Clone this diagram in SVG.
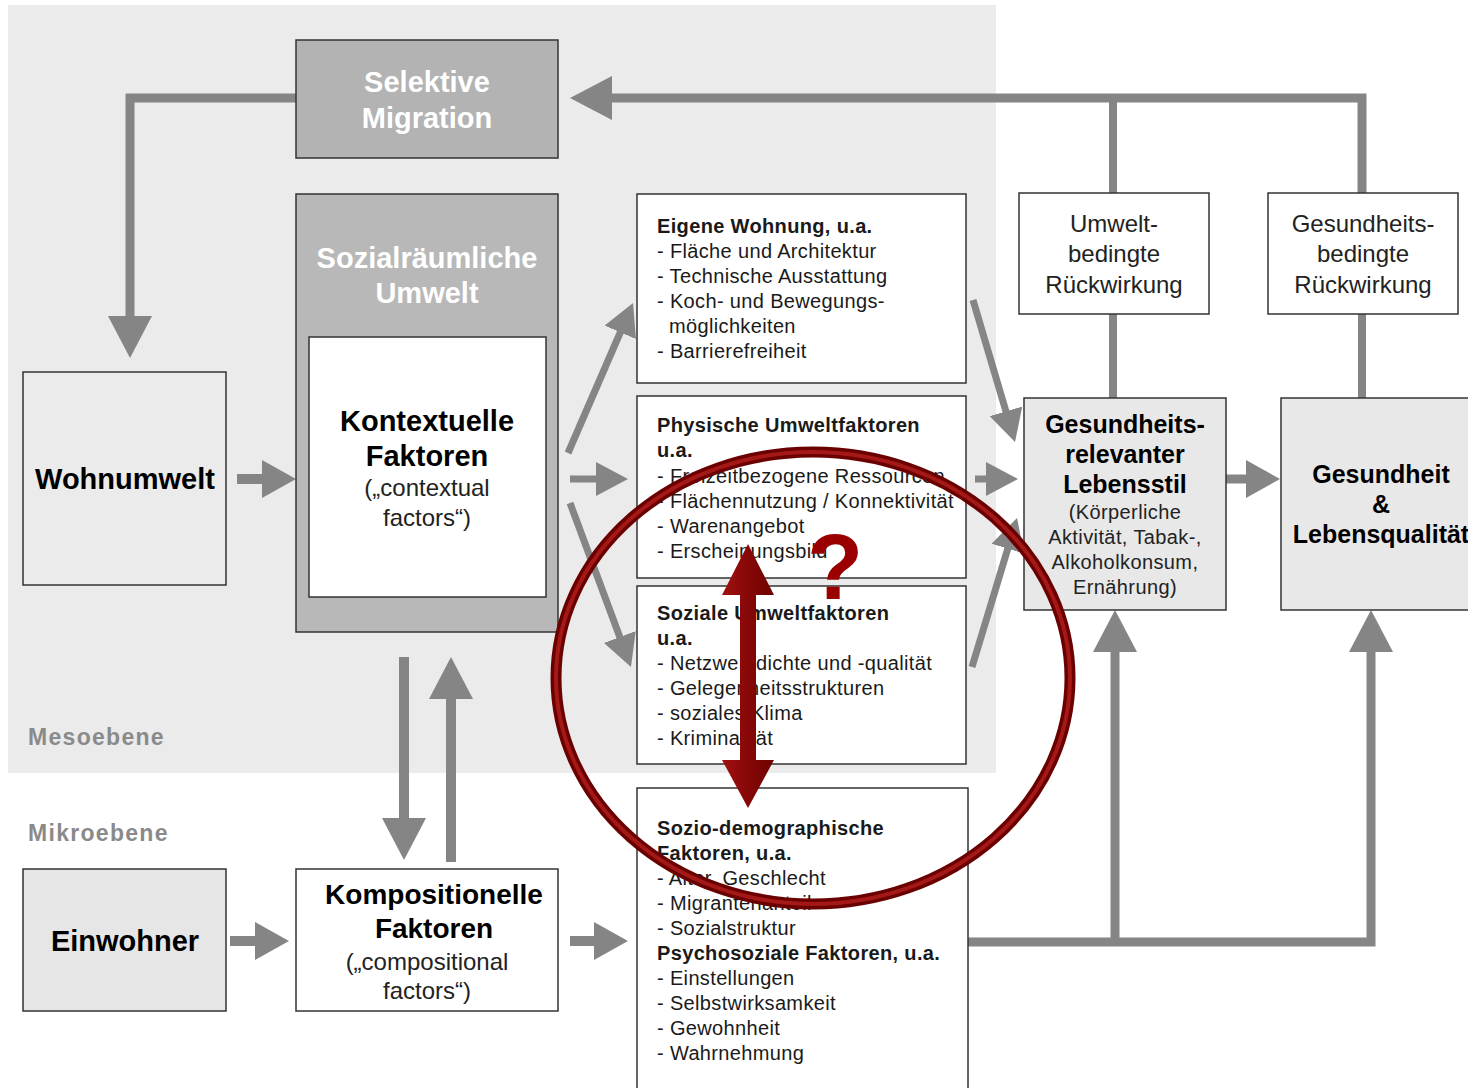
<svg xmlns="http://www.w3.org/2000/svg" width="1468" height="1088" viewBox="0 0 1468 1088">
<defs>
<style>
text{font-family:"Liberation Sans",Arial,sans-serif}
.b{font-weight:bold}
.ttl{font-size:29px;font-weight:bold;fill:#fff;text-anchor:middle}
.big{font-size:29px;font-weight:bold;fill:#000;text-anchor:middle}
.sub{font-size:24px;fill:#222;text-anchor:middle}
.hd{font-size:25px;font-weight:bold;fill:#000;text-anchor:middle}
.sm{font-size:20px;fill:#222;text-anchor:middle;letter-spacing:0.4px}
.lst{font-size:20px;fill:#1a1a1a;letter-spacing:0.35px}
.lvl{font-size:23px;font-weight:bold;fill:#8a8a8a;letter-spacing:1.3px}
.box{stroke:#333;stroke-width:1.5}
.conn{stroke:#858585;fill:none}
</style>
<marker id="hA" markerUnits="userSpaceOnUse" markerWidth="42" markerHeight="44" viewBox="0 0 42 44" refX="10" refY="22" orient="auto"><path d="M0,0L42,22L0,44z" fill="#858585"/></marker>
<marker id="hB" markerUnits="userSpaceOnUse" markerWidth="34" markerHeight="38" viewBox="0 0 34 38" refX="8" refY="19" orient="auto"><path d="M0,0L34,19L0,38z" fill="#858585"/></marker>
<marker id="hC" markerUnits="userSpaceOnUse" markerWidth="32" markerHeight="34" viewBox="0 0 32 34" refX="8" refY="17" orient="auto"><path d="M0,0L32,17L0,34z" fill="#858585"/></marker>
<linearGradient id="rg" x1="0" y1="0" x2="1" y2="0"><stop offset="0" stop-color="#a01010"/><stop offset="1" stop-color="#6e0000"/></linearGradient>
</defs>
<rect width="1468" height="1088" fill="#fff"/>
<rect id="meso" x="8" y="5" width="988" height="768" fill="#ebebeb"/>
<text class="lvl" x="28" y="745">Mesoebene</text>
<text class="lvl" x="28" y="841">Mikroebene</text>

<g id="connectors">
<path class="conn" stroke-width="9" d="M296,98H130V326" marker-end="url(#hA)"/>
<path class="conn" stroke-width="9" d="M1362,193V98H602" marker-end="url(#hA)"/>
<path class="conn" stroke-width="8" d="M1113,193V98"/>
<path class="conn" stroke-width="8" d="M1113,314V398M1362,314V398"/>
<path class="conn" stroke-width="10" d="M237,479H270" marker-end="url(#hB)"/>
<path class="conn" stroke-width="7" d="M568,453L623.5,325" marker-end="url(#hC)"/>
<path class="conn" stroke-width="7" d="M570,479H604" marker-end="url(#hC)"/>
<path class="conn" stroke-width="7" d="M570,503L622.6,644.5" marker-end="url(#hC)"/>
<path class="conn" stroke-width="7" d="M973,300L1008.2,419" marker-end="url(#hC)"/>
<path class="conn" stroke-width="7" d="M975,479H994" marker-end="url(#hC)"/>
<path class="conn" stroke-width="7" d="M972,667L1010.1,541" marker-end="url(#hC)"/>
<path class="conn" stroke-width="9" d="M1226,479H1254" marker-end="url(#hB)"/>
<path class="conn" stroke-width="10" d="M404,657V828" marker-end="url(#hA)"/>
<path class="conn" stroke-width="10" d="M451,862V689" marker-end="url(#hA)"/>
<path class="conn" stroke-width="10" d="M230,941H263" marker-end="url(#hB)"/>
<path class="conn" stroke-width="10" d="M570,941H602" marker-end="url(#hB)"/>
<path class="conn" stroke-width="9" d="M968,942H1371V642" marker-end="url(#hA)"/>
<path class="conn" stroke-width="9" d="M1115,942V642" marker-end="url(#hA)"/>
</g>

<g id="selektive">
<rect class="box" x="296" y="40" width="262" height="118" fill="#b3b3b3"/>
<text class="ttl" x="427" y="92">Selektive</text>
<text class="ttl" x="427" y="128">Migration</text>
</g>
<g id="sozialraum">
<rect class="box" x="296" y="194" width="262" height="438" fill="#b8b8b8"/>
<text class="ttl" x="427" y="268">Sozialräumliche</text>
<text class="ttl" x="427" y="303">Umwelt</text>
</g>
<g id="kontextuelle">
<rect class="box" x="309" y="337" width="237" height="260" fill="#fff"/>
<text class="big" x="427" y="431">Kontextuelle</text>
<text class="big" x="427" y="466">Faktoren</text>
<text class="sub" x="427" y="496">(„contextual</text>
<text class="sub" x="427" y="526">factors“)</text>
</g>
<g id="wohnumwelt">
<rect class="box" x="23" y="372" width="203" height="213" fill="#ebebeb"/>
<text class="big" x="125" y="489">Wohnumwelt</text>
</g>
<g id="einwohner">
<rect class="box" x="23" y="869" width="203" height="142" fill="#e6e6e6"/>
<text class="big" x="125" y="951">Einwohner</text>
</g>
<g id="kompositionelle">
<rect class="box" x="296" y="869" width="262" height="142" fill="#fff"/>
<text class="big" x="434" y="904" style="font-size:28px">Kompositionelle</text>
<text class="big" x="434" y="938" style="font-size:28px">Faktoren</text>
<text class="sub" x="427" y="970">(„compositional</text>
<text class="sub" x="427" y="999">factors“)</text>
</g>
<g id="eigene">
<rect class="box" x="637" y="194" width="329" height="189" fill="#fff"/>
<text class="lst b" x="657" y="233">Eigene Wohnung, u.a.</text>
<text class="lst" x="657" y="258">- Fläche und Architektur</text>
<text class="lst" x="657" y="283">- Technische Ausstattung</text>
<text class="lst" x="657" y="308">- Koch- und Bewegungs-</text>
<text class="lst" x="669" y="333">möglichkeiten</text>
<text class="lst" x="657" y="358">- Barrierefreiheit</text>
</g>
<g id="physische">
<rect class="box" x="637" y="396" width="329" height="182" fill="#fff"/>
<text class="lst b" x="657" y="432">Physische Umweltfaktoren</text>
<text class="lst b" x="657" y="457">u.a.</text>
<text class="lst" x="657" y="483">- Freizeitbezogene Ressourcen</text>
<text class="lst" x="657" y="508">- Flächennutzung / Konnektivität</text>
<text class="lst" x="657" y="533">- Warenangebot</text>
<text class="lst" x="657" y="558">- Erscheinungsbild</text>
</g>
<g id="soziale">
<rect class="box" x="637" y="586" width="329" height="178" fill="#fff"/>
<text class="lst b" x="657" y="620">Soziale Umweltfaktoren</text>
<text class="lst b" x="657" y="645">u.a.</text>
<text class="lst" x="657" y="670">- Netzwerkdichte und -qualität</text>
<text class="lst" x="657" y="695">- Gelegenheitsstrukturen</text>
<text class="lst" x="657" y="720">- soziales Klima</text>
<text class="lst" x="657" y="745">- Kriminalität</text>
</g>
<g id="soziodemo">
<rect class="box" x="637" y="788" width="331" height="310" fill="#fff"/>
<text class="lst b" x="657" y="835">Sozio-demographische</text>
<text class="lst b" x="657" y="860">Faktoren, u.a.</text>
<text class="lst" x="657" y="885">- Alter, Geschlecht</text>
<text class="lst" x="657" y="910">- Migrantenanteil</text>
<text class="lst" x="657" y="935">- Sozialstruktur</text>
<text class="lst b" x="657" y="960">Psychosoziale Faktoren, u.a.</text>
<text class="lst" x="657" y="985">- Einstellungen</text>
<text class="lst" x="657" y="1010">- Selbstwirksamkeit</text>
<text class="lst" x="657" y="1035">- Gewohnheit</text>
<text class="lst" x="657" y="1060">- Wahrnehmung</text>
</g>
<g id="umweltrueck">
<rect class="box" x="1019" y="193" width="190" height="121" fill="#fff"/>
<text class="sub" x="1114" y="232">Umwelt-</text>
<text class="sub" x="1114" y="262">bedingte</text>
<text class="sub" x="1114" y="293">Rückwirkung</text>
</g>
<g id="gesundrueck">
<rect class="box" x="1268" y="193" width="190" height="121" fill="#fff"/>
<text class="sub" x="1363" y="232">Gesundheits-</text>
<text class="sub" x="1363" y="262">bedingte</text>
<text class="sub" x="1363" y="293">Rückwirkung</text>
</g>
<g id="lebensstil">
<rect class="box" x="1024" y="398" width="202" height="212" fill="#e8e8e8"/>
<text class="hd" x="1125" y="433">Gesundheits-</text>
<text class="hd" x="1125" y="463">relevanter</text>
<text class="hd" x="1125" y="493">Lebensstil</text>
<text class="sm" x="1125" y="519">(Körperliche</text>
<text class="sm" x="1125" y="544">Aktivität, Tabak-,</text>
<text class="sm" x="1125" y="569">Alkoholkonsum,</text>
<text class="sm" x="1125" y="594">Ernährung)</text>
</g>
<g id="gesundheit">
<rect class="box" x="1281" y="398" width="200" height="212" fill="#e8e8e8"/>
<text class="hd" x="1381" y="483">Gesundheit</text>
<text class="hd" x="1381" y="513">&amp;</text>
<text class="hd" x="1381" y="543">Lebensqualität</text>
</g>

<g id="overlay">
<ellipse cx="813" cy="678" rx="257" ry="226" fill="none" stroke="#6a0000" stroke-width="11"/>
<ellipse cx="813" cy="678" rx="257" ry="226" fill="none" stroke="#a51818" stroke-width="4"/>
<polygon points="748,544 774,595 756,595 756,760 774,760 748,808 722,760 740,760 740,595 722,595" fill="url(#rg)"/>
<text x="807" y="599" style="font-size:92px;font-weight:bold;fill:#9b0000">?</text>
</g>
</svg>
